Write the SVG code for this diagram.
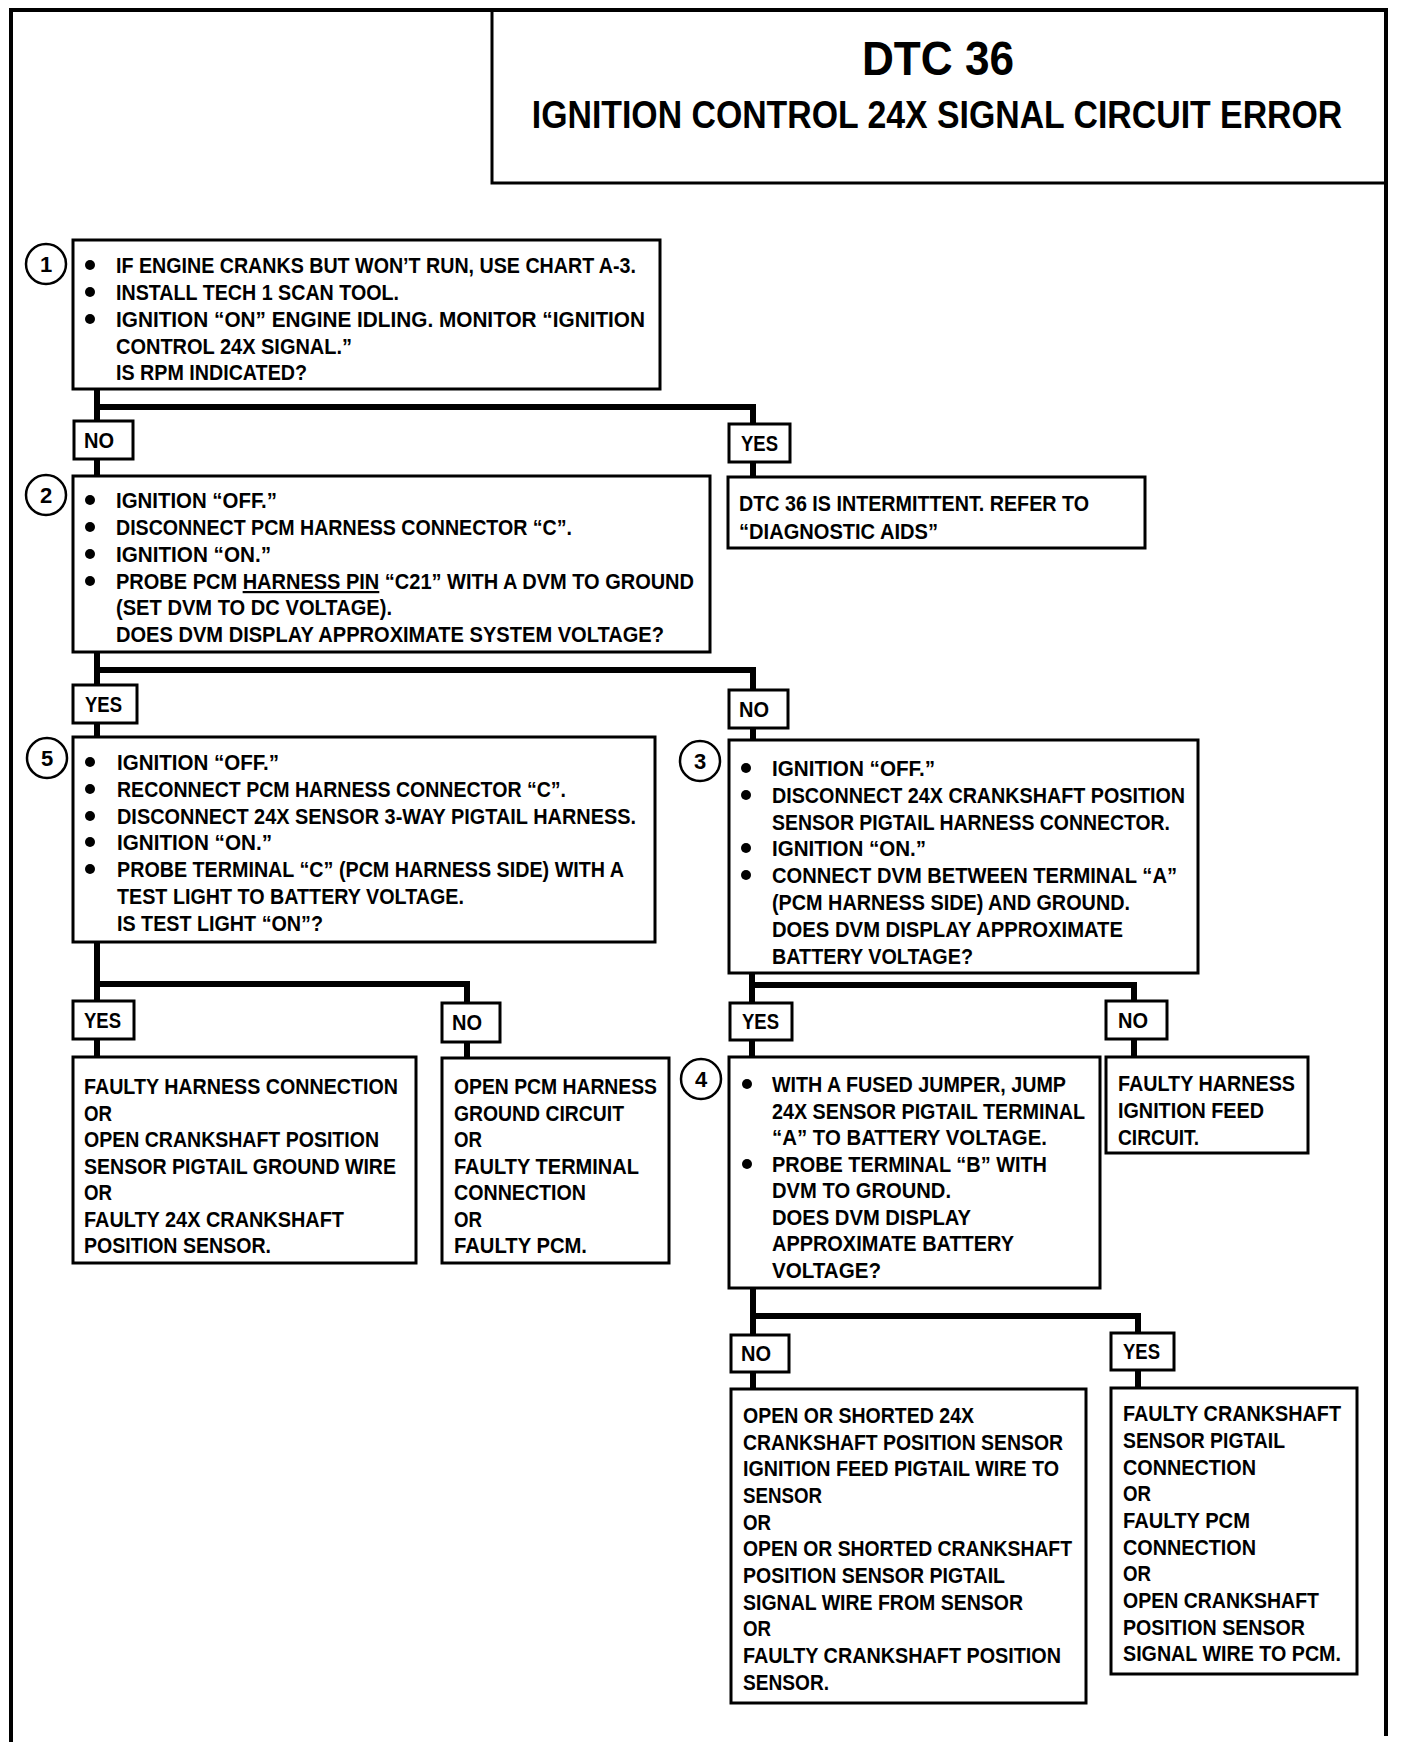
<svg xmlns="http://www.w3.org/2000/svg" width="1408" height="1742" viewBox="0 0 1408 1742">
<style>
.t{font-family:"Liberation Sans",Arial,sans-serif;font-weight:bold;font-size:22px;fill:#000}
.n{font-family:"Liberation Sans",Arial,sans-serif;font-weight:bold;font-size:22px;fill:#000;text-anchor:middle}
.h1{font-family:"Liberation Sans",Arial,sans-serif;font-weight:bold;font-size:48px;fill:#000;text-anchor:middle}
.h2{font-family:"Liberation Sans",Arial,sans-serif;font-weight:bold;font-size:38px;fill:#000;text-anchor:middle}
.box{fill:#fff;stroke:#000;stroke-width:3}
.num{fill:#fff;stroke:#000;stroke-width:2.5}
.dot{fill:#000}
.conn{fill:none;stroke:#000;stroke-width:6;stroke-linejoin:miter}
.frame{fill:none;stroke:#000;stroke-width:4}
</style>
<rect x="0" y="0" width="1408" height="1742" fill="#fff"/>
<g id="frame">
<path class="frame" d="M11 1742 V10 H1386 V1736"/>
<path class="frame" style="stroke-width:3" d="M492 10 V183 H1386"/>
</g>
<g id="title">
<text class="h1" transform="translate(938,75) scale(0.92,1)" x="0" y="0">DTC 36</text>
<text class="h2" transform="translate(937,128) scale(0.89,1)" x="0" y="0">IGNITION CONTROL 24X SIGNAL CIRCUIT ERROR</text>
</g>
<g id="connectors">
<path class="conn" d="M97 389 V407 H753 V424 M97 407 V421 M97 459 V476 M753 462 V477"/>
<path class="conn" d="M97 652 V670 H753 V690 M97 670 V685 M97 723 V737 M753 728 V740"/>
<path class="conn" d="M97 942 V984 H467 V1003 M97 984 V1001 M97 1039 V1057 M467 1042 V1058"/>
<path class="conn" d="M752 973 V985 H1134 V1001 M752 985 V1003 M752 1040 V1057 M1134 1039 V1057"/>
<path class="conn" d="M753 1288 V1316 H1138 V1333 M753 1316 V1335 M753 1372 V1389 M1138 1370 V1388"/>
</g>
<g id="label-no-1"><rect class="box" x="74" y="421" width="59" height="38"/><text class="t" x="84" y="448" textLength="30" lengthAdjust="spacingAndGlyphs">NO</text></g>
<g id="label-yes-1"><rect class="box" x="729" y="424" width="61" height="38"/><text class="t" x="741" y="451" textLength="37" lengthAdjust="spacingAndGlyphs">YES</text></g>
<g id="label-yes-2"><rect class="box" x="73" y="685" width="64" height="38"/><text class="t" x="85" y="712" textLength="37" lengthAdjust="spacingAndGlyphs">YES</text></g>
<g id="label-no-2"><rect class="box" x="729" y="690" width="59" height="38"/><text class="t" x="739" y="717" textLength="30" lengthAdjust="spacingAndGlyphs">NO</text></g>
<g id="label-yes-3"><rect class="box" x="73" y="1001" width="61" height="38"/><text class="t" x="84" y="1028" textLength="37" lengthAdjust="spacingAndGlyphs">YES</text></g>
<g id="label-no-3"><rect class="box" x="442" y="1003" width="58" height="39"/><text class="t" x="452" y="1030" textLength="30" lengthAdjust="spacingAndGlyphs">NO</text></g>
<g id="label-yes-4"><rect class="box" x="730" y="1003" width="62" height="37"/><text class="t" x="742" y="1029" textLength="37" lengthAdjust="spacingAndGlyphs">YES</text></g>
<g id="label-no-4"><rect class="box" x="1106" y="1001" width="61" height="38"/><text class="t" x="1118" y="1028" textLength="30" lengthAdjust="spacingAndGlyphs">NO</text></g>
<g id="label-no-5"><rect class="box" x="731" y="1335" width="58" height="37"/><text class="t" x="741" y="1361" textLength="30" lengthAdjust="spacingAndGlyphs">NO</text></g>
<g id="label-yes-5"><rect class="box" x="1111" y="1333" width="63" height="37"/><text class="t" x="1123" y="1359" textLength="37" lengthAdjust="spacingAndGlyphs">YES</text></g>
<g id="step1">
<rect class="box" x="73" y="240" width="587" height="149"/>
<circle class="num" cx="46" cy="264" r="20"/><text class="n" x="46" y="272">1</text>
<circle class="dot" cx="90" cy="265" r="5"/><circle class="dot" cx="90" cy="292" r="5"/><circle class="dot" cx="90" cy="319" r="5"/>
<text class="t" x="116" y="273" textLength="520" lengthAdjust="spacingAndGlyphs">IF ENGINE CRANKS BUT WON’T RUN, USE CHART A-3.</text>
<text class="t" x="116" y="300" textLength="283" lengthAdjust="spacingAndGlyphs">INSTALL TECH 1 SCAN TOOL.</text>
<text class="t" x="116" y="327" textLength="529" lengthAdjust="spacingAndGlyphs">IGNITION “ON” ENGINE IDLING.  MONITOR “IGNITION</text>
<text class="t" x="116" y="354" textLength="236" lengthAdjust="spacingAndGlyphs">CONTROL 24X SIGNAL.”</text>
<text class="t" x="116" y="380" textLength="191" lengthAdjust="spacingAndGlyphs">IS RPM INDICATED?</text>
</g>
<g id="result-intermittent">
<rect class="box" x="728" y="477" width="417" height="71"/>
<text class="t" x="739" y="511" textLength="350" lengthAdjust="spacingAndGlyphs">DTC 36 IS INTERMITTENT.  REFER TO</text>
<text class="t" x="739" y="539" textLength="199" lengthAdjust="spacingAndGlyphs">“DIAGNOSTIC AIDS”</text>
</g>
<g id="step2">
<rect class="box" x="73" y="476" width="637" height="176"/>
<circle class="num" cx="46" cy="495" r="20"/><text class="n" x="46" y="503">2</text>
<circle class="dot" cx="90" cy="500" r="5"/><circle class="dot" cx="90" cy="527" r="5"/><circle class="dot" cx="90" cy="554" r="5"/><circle class="dot" cx="90" cy="581" r="5"/>
<text class="t" x="116" y="508" textLength="161" lengthAdjust="spacingAndGlyphs">IGNITION “OFF.”</text>
<text class="t" x="116" y="535" textLength="456" lengthAdjust="spacingAndGlyphs">DISCONNECT PCM HARNESS CONNECTOR “C”.</text>
<text class="t" x="116" y="562" textLength="155" lengthAdjust="spacingAndGlyphs">IGNITION “ON.”</text>
<text class="t" x="116" y="589" textLength="578" lengthAdjust="spacingAndGlyphs">PROBE PCM <tspan text-decoration="underline">HARNESS PIN</tspan> “C21” WITH A DVM TO GROUND</text>
<text class="t" x="116" y="615" textLength="276" lengthAdjust="spacingAndGlyphs">(SET DVM TO DC VOLTAGE).</text>
<text class="t" x="116" y="642" textLength="548" lengthAdjust="spacingAndGlyphs">DOES DVM DISPLAY APPROXIMATE SYSTEM VOLTAGE?</text>
</g>
<g id="step5">
<rect class="box" x="73" y="737" width="582" height="205"/>
<circle class="num" cx="47" cy="758" r="20"/><text class="n" x="47" y="766">5</text>
<circle class="dot" cx="90" cy="762" r="5"/><circle class="dot" cx="90" cy="789" r="5"/><circle class="dot" cx="90" cy="816" r="5"/><circle class="dot" cx="90" cy="842" r="5"/><circle class="dot" cx="90" cy="869" r="5"/>
<text class="t" x="117" y="770" textLength="162" lengthAdjust="spacingAndGlyphs">IGNITION “OFF.”</text>
<text class="t" x="117" y="797" textLength="449" lengthAdjust="spacingAndGlyphs">RECONNECT PCM HARNESS CONNECTOR “C”.</text>
<text class="t" x="117" y="824" textLength="519" lengthAdjust="spacingAndGlyphs">DISCONNECT 24X SENSOR 3-WAY PIGTAIL HARNESS.</text>
<text class="t" x="117" y="850" textLength="155" lengthAdjust="spacingAndGlyphs">IGNITION “ON.”</text>
<text class="t" x="117" y="877" textLength="507" lengthAdjust="spacingAndGlyphs">PROBE TERMINAL “C” (PCM HARNESS SIDE) WITH A</text>
<text class="t" x="117" y="904" textLength="347" lengthAdjust="spacingAndGlyphs">TEST LIGHT TO BATTERY VOLTAGE.</text>
<text class="t" x="117" y="931" textLength="206" lengthAdjust="spacingAndGlyphs">IS TEST LIGHT “ON”?</text>
</g>
<g id="step3">
<rect class="box" x="729" y="740" width="469" height="233"/>
<circle class="num" cx="700" cy="761" r="20"/><text class="n" x="700" y="769">3</text>
<circle class="dot" cx="746" cy="768" r="5"/><circle class="dot" cx="746" cy="795" r="5"/><circle class="dot" cx="746" cy="848" r="5"/><circle class="dot" cx="746" cy="875" r="5"/>
<text class="t" x="772" y="776" textLength="163" lengthAdjust="spacingAndGlyphs">IGNITION “OFF.”</text>
<text class="t" x="772" y="803" textLength="413" lengthAdjust="spacingAndGlyphs">DISCONNECT 24X CRANKSHAFT POSITION</text>
<text class="t" x="772" y="830" textLength="398" lengthAdjust="spacingAndGlyphs">SENSOR PIGTAIL HARNESS CONNECTOR.</text>
<text class="t" x="772" y="856" textLength="154" lengthAdjust="spacingAndGlyphs">IGNITION “ON.”</text>
<text class="t" x="772" y="883" textLength="405" lengthAdjust="spacingAndGlyphs">CONNECT DVM BETWEEN TERMINAL “A”</text>
<text class="t" x="772" y="910" textLength="358" lengthAdjust="spacingAndGlyphs">(PCM HARNESS SIDE) AND GROUND.</text>
<text class="t" x="772" y="937" textLength="351" lengthAdjust="spacingAndGlyphs">DOES DVM DISPLAY APPROXIMATE</text>
<text class="t" x="772" y="964" textLength="201" lengthAdjust="spacingAndGlyphs">BATTERY VOLTAGE?</text>
</g>
<g id="result-5-yes">
<rect class="box" x="73" y="1057" width="343" height="206"/>
<text class="t" x="84" y="1094" textLength="314" lengthAdjust="spacingAndGlyphs">FAULTY HARNESS CONNECTION</text>
<text class="t" x="84" y="1121" textLength="28" lengthAdjust="spacingAndGlyphs">OR</text>
<text class="t" x="84" y="1147" textLength="295" lengthAdjust="spacingAndGlyphs">OPEN CRANKSHAFT POSITION</text>
<text class="t" x="84" y="1174" textLength="312" lengthAdjust="spacingAndGlyphs">SENSOR PIGTAIL GROUND WIRE</text>
<text class="t" x="84" y="1200" textLength="28" lengthAdjust="spacingAndGlyphs">OR</text>
<text class="t" x="84" y="1227" textLength="260" lengthAdjust="spacingAndGlyphs">FAULTY 24X CRANKSHAFT</text>
<text class="t" x="84" y="1253" textLength="187" lengthAdjust="spacingAndGlyphs">POSITION SENSOR.</text>
</g>
<g id="result-5-no">
<rect class="box" x="442" y="1058" width="227" height="205"/>
<text class="t" x="454" y="1094" textLength="203" lengthAdjust="spacingAndGlyphs">OPEN PCM HARNESS</text>
<text class="t" x="454" y="1121" textLength="170" lengthAdjust="spacingAndGlyphs">GROUND CIRCUIT</text>
<text class="t" x="454" y="1147" textLength="28" lengthAdjust="spacingAndGlyphs">OR</text>
<text class="t" x="454" y="1174" textLength="185" lengthAdjust="spacingAndGlyphs">FAULTY TERMINAL</text>
<text class="t" x="454" y="1200" textLength="132" lengthAdjust="spacingAndGlyphs">CONNECTION</text>
<text class="t" x="454" y="1227" textLength="28" lengthAdjust="spacingAndGlyphs">OR</text>
<text class="t" x="454" y="1253" textLength="133" lengthAdjust="spacingAndGlyphs">FAULTY PCM.</text>
</g>
<g id="step4">
<rect class="box" x="729" y="1057" width="371" height="231"/>
<circle class="num" cx="701" cy="1079" r="20"/><text class="n" x="701" y="1087">4</text>
<circle class="dot" cx="747" cy="1084" r="5"/><circle class="dot" cx="747" cy="1164" r="5"/>
<text class="t" x="772" y="1092" textLength="294" lengthAdjust="spacingAndGlyphs">WITH A FUSED JUMPER, JUMP</text>
<text class="t" x="772" y="1119" textLength="313" lengthAdjust="spacingAndGlyphs">24X SENSOR PIGTAIL TERMINAL</text>
<text class="t" x="772" y="1145" textLength="275" lengthAdjust="spacingAndGlyphs">“A” TO BATTERY VOLTAGE.</text>
<text class="t" x="772" y="1172" textLength="275" lengthAdjust="spacingAndGlyphs">PROBE TERMINAL “B” WITH</text>
<text class="t" x="772" y="1198" textLength="179" lengthAdjust="spacingAndGlyphs">DVM TO GROUND.</text>
<text class="t" x="772" y="1225" textLength="199" lengthAdjust="spacingAndGlyphs">DOES DVM DISPLAY</text>
<text class="t" x="772" y="1251" textLength="242" lengthAdjust="spacingAndGlyphs">APPROXIMATE BATTERY</text>
<text class="t" x="772" y="1278" textLength="109" lengthAdjust="spacingAndGlyphs">VOLTAGE?</text>
</g>
<g id="result-3-no">
<rect class="box" x="1106" y="1057" width="202" height="96"/>
<text class="t" x="1118" y="1091" textLength="177" lengthAdjust="spacingAndGlyphs">FAULTY HARNESS</text>
<text class="t" x="1118" y="1118" textLength="146" lengthAdjust="spacingAndGlyphs">IGNITION FEED</text>
<text class="t" x="1118" y="1145" textLength="81" lengthAdjust="spacingAndGlyphs">CIRCUIT.</text>
</g>
<g id="result-4-no">
<rect class="box" x="731" y="1389" width="355" height="314"/>
<text class="t" x="743" y="1423" textLength="231" lengthAdjust="spacingAndGlyphs">OPEN OR SHORTED 24X</text>
<text class="t" x="743" y="1450" textLength="320" lengthAdjust="spacingAndGlyphs">CRANKSHAFT POSITION SENSOR</text>
<text class="t" x="743" y="1476" textLength="316" lengthAdjust="spacingAndGlyphs">IGNITION FEED PIGTAIL WIRE TO</text>
<text class="t" x="743" y="1503" textLength="79" lengthAdjust="spacingAndGlyphs">SENSOR</text>
<text class="t" x="743" y="1530" textLength="28" lengthAdjust="spacingAndGlyphs">OR</text>
<text class="t" x="743" y="1556" textLength="329" lengthAdjust="spacingAndGlyphs">OPEN OR SHORTED CRANKSHAFT</text>
<text class="t" x="743" y="1583" textLength="262" lengthAdjust="spacingAndGlyphs">POSITION SENSOR PIGTAIL</text>
<text class="t" x="743" y="1610" textLength="280" lengthAdjust="spacingAndGlyphs">SIGNAL WIRE FROM SENSOR</text>
<text class="t" x="743" y="1636" textLength="28" lengthAdjust="spacingAndGlyphs">OR</text>
<text class="t" x="743" y="1663" textLength="318" lengthAdjust="spacingAndGlyphs">FAULTY CRANKSHAFT POSITION</text>
<text class="t" x="743" y="1690" textLength="86" lengthAdjust="spacingAndGlyphs">SENSOR.</text>
</g>
<g id="result-4-yes">
<rect class="box" x="1111" y="1388" width="246" height="286"/>
<text class="t" x="1123" y="1421" textLength="218" lengthAdjust="spacingAndGlyphs">FAULTY CRANKSHAFT</text>
<text class="t" x="1123" y="1448" textLength="162" lengthAdjust="spacingAndGlyphs">SENSOR PIGTAIL</text>
<text class="t" x="1123" y="1475" textLength="133" lengthAdjust="spacingAndGlyphs">CONNECTION</text>
<text class="t" x="1123" y="1501" textLength="28" lengthAdjust="spacingAndGlyphs">OR</text>
<text class="t" x="1123" y="1528" textLength="127" lengthAdjust="spacingAndGlyphs">FAULTY PCM</text>
<text class="t" x="1123" y="1555" textLength="133" lengthAdjust="spacingAndGlyphs">CONNECTION</text>
<text class="t" x="1123" y="1581" textLength="28" lengthAdjust="spacingAndGlyphs">OR</text>
<text class="t" x="1123" y="1608" textLength="196" lengthAdjust="spacingAndGlyphs">OPEN CRANKSHAFT</text>
<text class="t" x="1123" y="1635" textLength="182" lengthAdjust="spacingAndGlyphs">POSITION SENSOR</text>
<text class="t" x="1123" y="1661" textLength="218" lengthAdjust="spacingAndGlyphs">SIGNAL WIRE TO PCM.</text>
</g>
</svg>
